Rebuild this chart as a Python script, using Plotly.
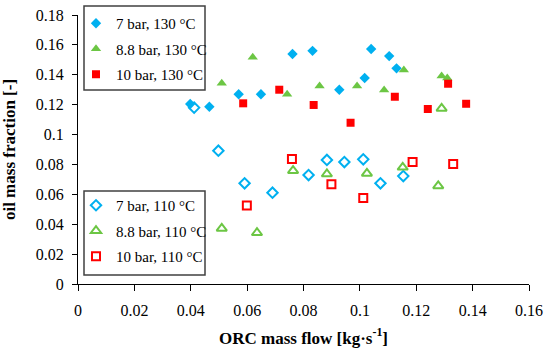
import plotly.graph_objects as go

# 130 °C (filled)
x7_130 = [0.0398, 0.0466, 0.0570, 0.0649, 0.0761, 0.0832, 0.0927, 0.1017, 0.1040, 0.1104, 0.1130]
y7_130 = [0.1204, 0.1186, 0.1270, 0.1270, 0.1539, 0.1560, 0.1300, 0.1378, 0.1572, 0.1525, 0.1443]
x88_130 = [0.0510, 0.0620, 0.0742, 0.0857, 0.0990, 0.1086, 0.1156, 0.1290, 0.1310]
y88_130 = [0.1343, 0.1517, 0.1270, 0.1325, 0.1325, 0.1298, 0.1432, 0.1392, 0.1378]
x10_130 = [0.0586, 0.0714, 0.0836, 0.0967, 0.1124, 0.1241, 0.1313, 0.1377]
y10_130 = [0.1209, 0.1300, 0.1198, 0.1079, 0.1253, 0.1171, 0.1340, 0.1206]

# 110 °C (open)
x7_110 = [0.0412, 0.0498, 0.0591, 0.0690, 0.0818, 0.0883, 0.0945, 0.1012, 0.1073, 0.1154]
y7_110 = [0.1180, 0.0892, 0.0674, 0.0611, 0.0729, 0.0830, 0.0816, 0.0834, 0.0674, 0.0722]
x88_110 = [0.0510, 0.0635, 0.0763, 0.0883, 0.1025, 0.1152, 0.1278, 0.1290]
y88_110 = [0.0372, 0.0343, 0.0758, 0.0736, 0.0740, 0.0781, 0.0656, 0.1175]
x10_110 = [0.0599, 0.0759, 0.0899, 0.1012, 0.1187, 0.1331]
y10_110 = [0.0526, 0.0836, 0.0667, 0.0575, 0.0816, 0.0803]

names_130 = ["7 bar, 130 °C", "8.8 bar, 130 °C", "10 bar, 130 °C"]
names_110 = ["7 bar, 110 °C", "8.8 bar, 110 °C", "10 bar, 110 °C"]

BLUE = "#00B0F0"
GREEN = "#6CC644"
RED = "#FF0000"
FONT = "Liberation Serif"

fig = go.Figure()

filled = [(x7_130, y7_130, "diamond", BLUE, 8),
          (x88_130, y88_130, "triangle-up", GREEN, 9),
          (x10_130, y10_130, "square", RED, 8)]
opened = [(x7_110, y7_110, "diamond-open", BLUE, 8),
          (x88_110, y88_110, "triangle-up-open", GREEN, 9),
          (x10_110, y10_110, "square-open", RED, 8)]

for i, (xs, ys, sym, col, sz) in enumerate(filled):
    fig.add_trace(go.Scatter(x=xs, y=ys, mode="markers", name=names_130[i],
                             marker=dict(symbol=sym, color=col, size=sz),
                             legend="legend", legendgroup="a%d" % i))
for i, (xs, ys, sym, col, sz) in enumerate(opened):
    fig.add_trace(go.Scatter(x=xs, y=ys, mode="markers", name=names_110[i],
                             marker=dict(symbol=sym, color=col, size=sz,
                                         line=dict(color=col, width=2)),
                             legend="legend2", legendgroup="b%d" % i))

W, H = 451, 269
def px(xp):
    return (xp - 78) / W
def py(yp):
    return (284 - yp) / H

# legend boxes
for (x0, y0, x1, y1) in [(84, 6, 205, 90), (84, 191, 205, 275)]:
    fig.add_shape(type="rect", xref="paper", yref="paper",
                  x0=px(x0), x1=px(x1), y0=py(y1), y1=py(y0),
                  line=dict(color="#404040", width=1.5), fillcolor="rgba(0,0,0,0)")

leg = dict(font=dict(family=FONT, size=15, color="black"), bgcolor="rgba(0,0,0,0)",
           borderwidth=0, xanchor="left", yanchor="top", tracegroupgap=3)
fig.update_layout(
    width=550, height=350,
    margin=dict(l=78, r=21, t=15, b=66, autoexpand=False),
    paper_bgcolor="white", plot_bgcolor="white",
    font=dict(family=FONT, size=16, color="black"),
    legend=dict(leg, x=px(76), y=py(7)),
    legend2=dict(leg, x=px(76), y=py(189)),
    xaxis=dict(range=[0, 0.16], dtick=0.02, tick0=0, showgrid=False, zeroline=False,
               showline=True, linecolor="black", linewidth=1,
               ticks="outside", ticklen=6, tickcolor="black",
               tickformat="~g", ticklabelstandoff=6,
               title=dict(text="<b>ORC mass flow [kg·s<sup>-1</sup>]</b>",
                          font=dict(family=FONT, size=17), standoff=13)),
    yaxis=dict(range=[0, 0.18], dtick=0.02, tick0=0, showgrid=False, zeroline=False,
               showline=True, linecolor="black", linewidth=1,
               ticks="outside", ticklen=5, tickcolor="black",
               tickformat="~g", ticklabelstandoff=5,
               title=dict(text="<b>oil mass fraction [-]</b>",
                          font=dict(family=FONT, size=17), standoff=17)),
)

fig.write_html("out.html", config={"displayModeBar": False},
               post_script="document.body.style.margin='0px';"
                           "document.body.style.overflow='hidden';")
